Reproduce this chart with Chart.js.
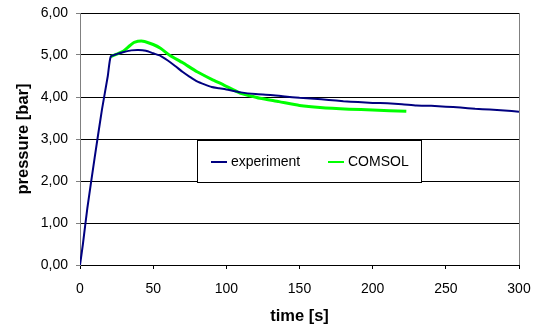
<!DOCTYPE html>
<html>
<head>
<meta charset="utf-8">
<script src="https://cdn.jsdelivr.net/npm/chart.js@4"></script>
<style>
    body { margin: 0; background: #fff; }
    canvas { display: block; }
</style>
</head>
<body>
<canvas id="pressureChart" width="537" height="329"></canvas>
<script>
const seriesNames = ['experiment', 'COMSOL'];
const seriesColors = ['#000080', '#00ff00'];

const expTime = [0, 2, 5, 10, 15, 19, 21, 25, 30, 35, 40, 45, 50, 55, 60, 65, 70, 75, 80, 85, 90, 95, 100,
    110, 120, 130, 140, 150, 160, 170, 180, 190, 200, 210, 220, 230, 240, 250, 260, 270, 280, 290, 300];
const expPressure = [0, 0.5, 1.35, 2.55, 3.7, 4.5, 4.96, 5.02, 5.07, 5.11, 5.12, 5.1, 5.04, 4.98, 4.87, 4.74, 4.6, 4.48, 4.37, 4.3, 4.24, 4.21, 4.18,
    4.11, 4.07, 4.05, 4.01, 3.98, 3.96, 3.93, 3.9, 3.88, 3.86, 3.85, 3.83, 3.8, 3.79, 3.77, 3.75, 3.72, 3.7, 3.68, 3.65];

const comsolTime = [21, 25, 30, 34, 37, 43, 50, 55, 61, 70, 80, 90, 98, 109, 116, 123, 136, 150, 164, 184, 200, 223];
const comsolPressure = [4.96, 5.02, 5.1, 5.22, 5.3, 5.33, 5.25, 5.16, 5.0, 4.82, 4.6, 4.42, 4.29, 4.1, 4.03, 3.97, 3.89, 3.8, 3.75, 3.71, 3.69, 3.66];

const xTitle = 'time [s]';
const yTitle = 'pressure [bar]';

const fontFamily = "'Liberation Sans', Arial, sans-serif";

function toPoints(xs, ys) {
    return xs.map((x, i) => ({ x: x, y: ys[i] }));
}

// legend box + right frame line, drawn over the plot
const excelLegend = {
    id: 'excelLegend',
    afterDraw(chart) {
        const ctx = chart.ctx;
        const area = chart.chartArea;
        ctx.save();

        ctx.strokeStyle = '#808080';
        ctx.lineWidth = 1;
        ctx.beginPath();
        ctx.moveTo(Math.round(area.right) + 0.5, area.top);
        ctx.lineTo(Math.round(area.right) + 0.5, area.bottom);
        ctx.stroke();

        const boxX = 197, boxY = 140, boxW = 224, boxH = 42;
        ctx.fillStyle = '#fff';
        ctx.fillRect(boxX, boxY, boxW, boxH);
        ctx.strokeStyle = '#000';
        ctx.strokeRect(boxX + 0.5, boxY + 0.5, boxW, boxH);

        const midY = boxY + 22;
        const entryX = [211, 328];
        ctx.font = '14px ' + fontFamily;
        ctx.textBaseline = 'middle';
        chart.data.datasets.forEach((ds, i) => {
            ctx.strokeStyle = ds.borderColor;
            ctx.lineWidth = 2;
            ctx.beginPath();
            ctx.moveTo(entryX[i], midY);
            ctx.lineTo(entryX[i] + 16, midY);
            ctx.stroke();
            ctx.fillStyle = '#000';
            ctx.fillText(ds.label, entryX[i] + 20, midY);
        });
        ctx.restore();
    },
};

function init() {
    const ctx = document.getElementById('pressureChart').getContext('2d');

    new Chart(ctx, {
        type: 'scatter',
        data: {
            datasets: [
                {
                    label: seriesNames[0],
                    data: toPoints(expTime, expPressure),
                    borderColor: seriesColors[0],
                    borderWidth: 2,
                    showLine: true,
                    pointRadius: 0,
                    tension: 0.2,
                },
                {
                    label: seriesNames[1],
                    data: toPoints(comsolTime, comsolPressure),
                    borderColor: seriesColors[1],
                    borderWidth: 3,
                    showLine: true,
                    pointRadius: 0,
                    tension: 0.2,
                },
            ],
        },
        options: {
            responsive: false,
            animation: false,
            layout: {
                autoPadding: false,
                padding: { top: 13, right: 18, left: 0, bottom: 0 },
            },
            scales: {
                x: {
                    type: 'linear',
                    min: 0,
                    max: 300,
                    afterFit: (scale) => {
                        scale.height = 64;
                        scale.paddingLeft = 0;
                        scale.paddingRight = 0;
                    },
                    ticks: {
                        stepSize: 50,
                        color: '#000',
                        padding: 12,
                        maxRotation: 0,
                        font: { family: fontFamily, size: 14 },
                    },
                    grid: {
                        drawOnChartArea: false,
                        drawTicks: true,
                        tickLength: 4,
                        color: '#000',
                    },
                    border: { color: '#000' },
                    title: {
                        display: true,
                        text: xTitle,
                        color: '#000',
                        padding: { top: 0, bottom: 3 },
                        font: { family: fontFamily, size: 16.5, weight: 'bold' },
                    },
                },
                y: {
                    min: 0,
                    max: 6,
                    afterFit: (scale) => {
                        scale.width = 80;
                        scale.paddingTop = 0;
                        scale.paddingBottom = 0;
                    },
                    ticks: {
                        stepSize: 1,
                        color: '#000',
                        padding: 8,
                        font: { family: fontFamily, size: 14 },
                        callback: (value) => value.toFixed(2).replace('.', ','),
                    },
                    grid: {
                        color: '#000',
                        tickColor: '#808080',
                        tickLength: 4,
                    },
                    border: { color: '#808080' },
                    title: {
                        display: true,
                        text: yTitle,
                        color: '#000',
                        padding: { top: 14, bottom: 0 },
                        font: { family: fontFamily, size: 16.5, weight: 'bold' },
                    },
                },
            },
            plugins: {
                legend: { display: false },
                tooltip: { enabled: false },
            },
        },
        plugins: [excelLegend],
    });
}

document.addEventListener('DOMContentLoaded', init);
</script>
</body>
</html>
